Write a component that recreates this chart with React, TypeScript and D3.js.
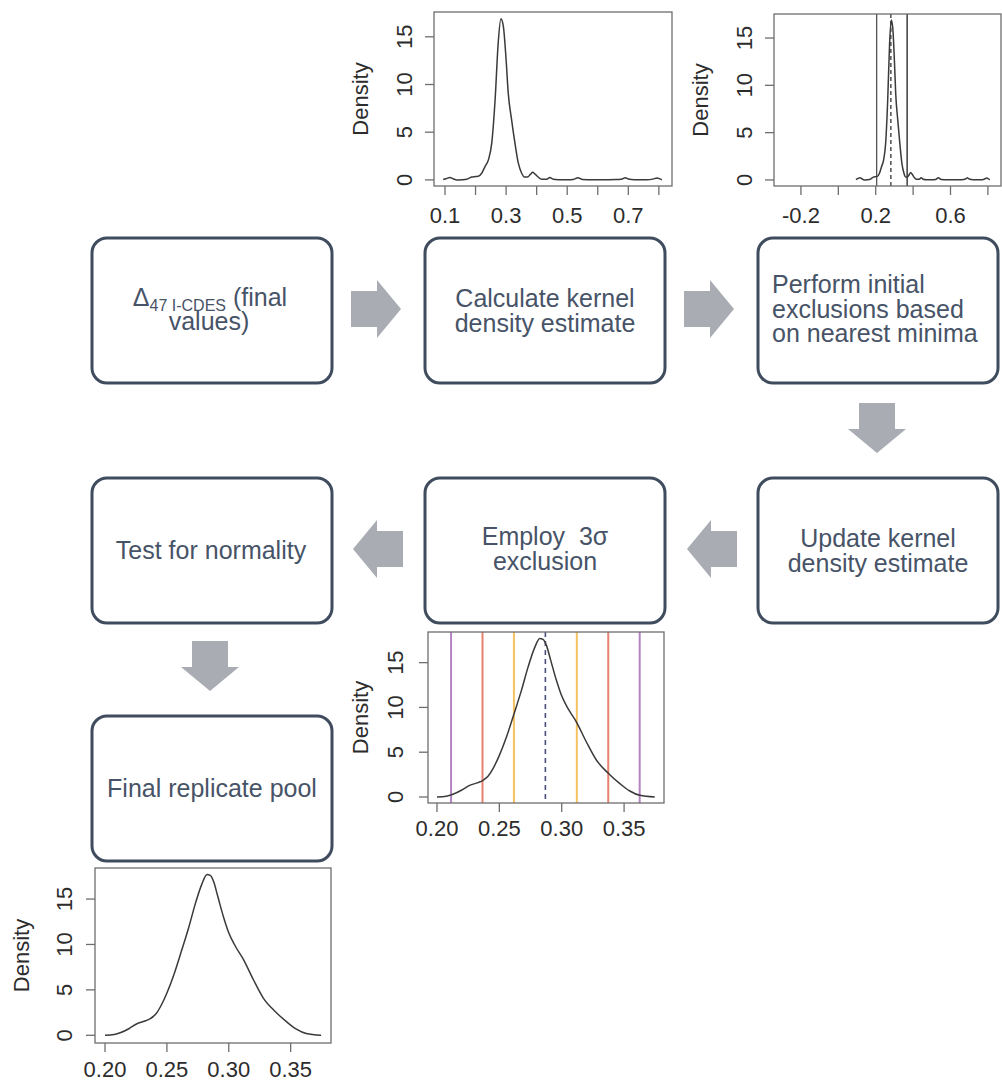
import React from 'react';
import * as d3 from 'd3';

// Kernel density of all final replicate values (Δ47 I-CDES)
const kdeAllX = [0.094, 0.105, 0.116, 0.128, 0.138, 0.155, 0.171, 0.187, 0.2, 0.209, 0.22, 0.231, 0.242, 0.253, 0.264, 0.274, 0.283, 0.291, 0.3, 0.307, 0.318, 0.329, 0.34, 0.351, 0.36, 0.37, 0.38, 0.387, 0.395, 0.405, 0.416, 0.433, 0.443, 0.454, 0.47, 0.5, 0.52, 0.535, 0.55, 0.58, 0.62, 0.66, 0.68, 0.69, 0.7, 0.72, 0.76, 0.78, 0.794, 0.805, 0.81];
const kdeAllY = [0.05, 0.15, 0.24, 0.1, 0.0, 0.02, 0.07, 0.3, 0.35, 0.38, 0.7, 1.4, 2.1, 3.85, 8.4, 14.3, 16.9, 16.1, 12.6, 9.1, 6.3, 3.85, 1.75, 0.7, 0.3, 0.3, 0.6, 0.8, 0.6, 0.3, 0.07, 0.07, 0.24, 0.07, 0.02, 0.02, 0.05, 0.22, 0.05, 0.02, 0.02, 0.03, 0.1, 0.22, 0.1, 0.02, 0.02, 0.08, 0.2, 0.08, 0.02];

// Kernel density after the nearest-minima exclusions
const kdeTrimX = [0.2, 0.2075, 0.2128, 0.2196, 0.2262, 0.2329, 0.2369, 0.2409, 0.2449, 0.25, 0.2557, 0.2618, 0.2677, 0.273, 0.2784, 0.2824, 0.285, 0.2878, 0.2912, 0.2958, 0.2998, 0.3051, 0.3118, 0.3198, 0.3279, 0.3377, 0.3466, 0.3546, 0.3626, 0.3746];
const kdeTrimY = [0.0, 0.08, 0.3, 0.75, 1.3, 1.6, 1.86, 2.31, 3.17, 4.65, 6.7, 9.3, 11.9, 14.5, 16.7, 17.7, 17.6, 16.9, 15.25, 13.0, 11.35, 9.86, 8.37, 6.14, 4.1, 2.6, 1.5, 0.67, 0.19, 0.0];

const densityTicks = [0, 5, 10, 15];
const allXTicks = [0.1, 0.2, 0.3, 0.4, 0.5, 0.6, 0.7, 0.8];
const allXLabels = [0.1, 0.3, 0.5, 0.7];
const wideXTicks = [-0.2, 0.0, 0.2, 0.4, 0.6, 0.8];
const wideXLabels = [-0.2, 0.2, 0.6];
const trimXTicks = [0.2, 0.25, 0.3, 0.35];

// Nearest minima either side of the mode
const minimaBounds = [0.205, 0.368];
const allMode = 0.281;

// 3σ exclusion statistics
const trimMean = 0.2869;
const trimSd = 0.0252;
const sigmaSteps = [1, 2, 3];
const sigmaColors = ['#F6C260', '#E8826F', '#B483C2'];

// Flow step texts
const stepCalc = ['Calculate kernel', 'density estimate'];
const stepInitial = ['Perform initial', 'exclusions based', 'on nearest minima'];
const stepUpdate = ['Update kernel', 'density estimate'];
const stepSigma = ['Employ  3σ', 'exclusion'];
const stepNormality = 'Test for normality';
const stepFinal = 'Final replicate pool';

const FONT = '"Liberation Sans", Arial, Helvetica, sans-serif';
const TEXT_COLOR = '#475367';
const BOX_STROKE = '#3E4C5E';
const ARROW_FILL = '#A9ACB3';
const AXIS_COLOR = '#6E6E6E';

type PanelProps = {
  frame: [number, number, number, number];
  xDomain: [number, number];
  yDomain: [number, number];
  xs: number[];
  ys: number[];
  xTicks: number[];
  xLabels: number[];
  digits: number;
  xLabelGap: number;
  yLabelGap: number;
  titleGap: number;
  overlay?: (x: d3.ScaleLinear<number, number>, y: d3.ScaleLinear<number, number>) => React.ReactNode;
};

function DensityPanel(p: PanelProps) {
  const [x0, y0, x1, y1] = p.frame;
  const x = d3.scaleLinear().domain(p.xDomain).range([x0, x1]);
  const y = d3.scaleLinear().domain(p.yDomain).range([y1, y0]);
  const pts: [number, number][] = p.xs.map((v, i) => [v, p.ys[i]]);
  const line = d3
    .line<[number, number]>()
    .x((d) => x(d[0]))
    .y((d) => y(d[1]))
    .curve(d3.curveMonotoneX);
  const tickLen = 9;
  return (
    <g fontFamily={FONT}>
      {p.overlay ? p.overlay(x, y) : null}
      <path d={line(pts) || ''} fill="none" stroke="#3a3a3a" strokeWidth={1.5} />
      <rect x={x0} y={y0} width={x1 - x0} height={y1 - y0} fill="none" stroke={AXIS_COLOR} strokeWidth={1.3} />
      {p.xTicks.map((t) => (
        <line key={'xt' + t} x1={x(t)} x2={x(t)} y1={y1} y2={y1 + tickLen} stroke={AXIS_COLOR} strokeWidth={1.3} />
      ))}
      {p.xLabels.map((t) => (
        <text key={'xl' + t} x={x(t)} y={y1 + p.xLabelGap} textAnchor="middle" fontSize={22} fill="#2c2c2c">
          {t.toFixed(p.digits)}
        </text>
      ))}
      {densityTicks.map((t) => (
        <line key={'yt' + t} x1={x0 - tickLen} x2={x0} y1={y(t)} y2={y(t)} stroke={AXIS_COLOR} strokeWidth={1.3} />
      ))}
      {densityTicks.map((t) => (
        <text
          key={'yl' + t}
          transform={`translate(${x0 - p.yLabelGap},${y(t)}) rotate(-90)`}
          textAnchor="middle"
          fontSize={22}
          fill="#2c2c2c"
        >
          {t}
        </text>
      ))}
      <text
        transform={`translate(${x0 - p.titleGap},${(y0 + y1) / 2}) rotate(-90)`}
        textAnchor="middle"
        fontSize={22}
        fill="#2c2c2c"
      >
        Density
      </text>
    </g>
  );
}

const BOX_W = 240;
const BOX_H = 145;

function StepBox({ x, y }: { x: number; y: number }) {
  return <rect x={x} y={y} width={BOX_W} height={BOX_H} rx={15} ry={15} fill="#fff" stroke={BOX_STROKE} strokeWidth={3} />;
}

function Arrow({ x, y, angle }: { x: number; y: number; angle: number }) {
  // block arrow pointing along +x from its tail at (0,0)
  const d = 'M0,-18 H26 V-29 L50,0 L26,29 V18 H0 Z';
  return <path d={d} fill={ARROW_FILL} transform={`translate(${x},${y}) rotate(${angle})`} />;
}

function Lines({ lines, x, y, step, anchor = 'middle' }: { lines: string[]; x: number; y: number; step: number; anchor?: string }) {
  return (
    <text fontFamily={FONT} fontSize={25} fill={TEXT_COLOR} textAnchor={anchor} style={{ whiteSpace: 'pre' }}>
      {lines.map((l, i) => (
        <tspan key={i} x={x} y={y + i * step}>
          {l}
        </tspan>
      ))}
    </text>
  );
}

export default function App() {
  const sigmaLines = (x: d3.ScaleLinear<number, number>, y: d3.ScaleLinear<number, number>) => {
    const [top, bottom] = [y.range()[1], y.range()[0]];
    return (
      <g>
        {sigmaSteps.map((k, i) =>
          [-1, 1].map((s) => (
            <line
              key={k + '_' + s}
              x1={x(trimMean + s * k * trimSd)}
              x2={x(trimMean + s * k * trimSd)}
              y1={top}
              y2={bottom}
              stroke={sigmaColors[i]}
              strokeWidth={2}
            />
          ))
        )}
        <line x1={x(trimMean)} x2={x(trimMean)} y1={top} y2={bottom} stroke="#4B4F7D" strokeWidth={1.6} strokeDasharray="5,4" />
      </g>
    );
  };

  const minimaLines = (x: d3.ScaleLinear<number, number>, y: d3.ScaleLinear<number, number>) => {
    const [top, bottom] = [y.range()[1], y.range()[0]];
    return (
      <g>
        <line x1={x(minimaBounds[0])} x2={x(minimaBounds[0])} y1={top} y2={bottom} stroke="#555" strokeWidth={1.3} />
        <line x1={x(minimaBounds[1])} x2={x(minimaBounds[1])} y1={top} y2={bottom} stroke="#1e1e1e" strokeWidth={1.3} />
        <line x1={x(allMode)} x2={x(allMode)} y1={top} y2={bottom} stroke="#333" strokeWidth={1.3} strokeDasharray="4,3" />
      </g>
    );
  };

  return (
    <svg
      width={1002}
      height={1082}
      viewBox="0 0 1002 1082"
      style={{ position: 'absolute', left: 0, top: 0, display: 'block', background: '#fff' }}
    >
      <rect x={0} y={0} width={1002} height={1082} fill="#fff" />

      {/* density panels */}
      <DensityPanel
        frame={[434, 12, 672, 186]}
        xDomain={[0.064, 0.843]}
        yDomain={[-0.64, 17.6]}
        xs={kdeAllX}
        ys={kdeAllY}
        xTicks={allXTicks}
        xLabels={allXLabels}
        digits={1}
        xLabelGap={37}
        yLabelGap={22}
        titleGap={66}
      />
      <DensityPanel
        frame={[774, 14, 1001, 186]}
        xDomain={[-0.344, 0.87]}
        yDomain={[-0.64, 17.54]}
        xs={kdeAllX}
        ys={kdeAllY}
        xTicks={wideXTicks}
        xLabels={wideXLabels}
        digits={1}
        xLabelGap={37}
        yLabelGap={22}
        titleGap={66}
        overlay={minimaLines}
      />
      <DensityPanel
        frame={[428, 632, 664, 803]}
        xDomain={[0.1928, 0.382]}
        yDomain={[-0.67, 18.42]}
        xs={kdeTrimX}
        ys={kdeTrimY}
        xTicks={trimXTicks}
        xLabels={trimXTicks}
        digits={2}
        xLabelGap={33}
        yLabelGap={25}
        titleGap={60}
        overlay={sigmaLines}
      />
      <DensityPanel
        frame={[95, 868, 331, 1043]}
        xDomain={[0.1919, 0.3826]}
        yDomain={[-0.85, 18.42]}
        xs={kdeTrimX}
        ys={kdeTrimY}
        xTicks={trimXTicks}
        xLabels={trimXTicks}
        digits={2}
        xLabelGap={34}
        yLabelGap={23}
        titleGap={66}
      />

      {/* flow boxes */}
      <StepBox x={92} y={238} />
      <StepBox x={425} y={238} />
      <StepBox x={758} y={238} />
      <StepBox x={92} y={478} />
      <StepBox x={425} y={478} />
      <StepBox x={758} y={478} />
      <StepBox x={92} y={716} />

      {/* flow arrows */}
      <Arrow x={351} y={309} angle={0} />
      <Arrow x={684} y={309} angle={0} />
      <Arrow x={877} y={403} angle={90} />
      <Arrow x={737} y={549} angle={180} />
      <Arrow x={403} y={549} angle={180} />
      <Arrow x={210} y={641} angle={90} />

      {/* step labels */}
      <text fontFamily={FONT} fontSize={25} fill={TEXT_COLOR} textAnchor="middle">
        <tspan x={210} y={306}>
          Δ
          <tspan fontSize={16} dy={5}>
            47 I-CDES
          </tspan>
          <tspan dy={-5}> (final</tspan>
        </tspan>
        <tspan x={209} y={330}>
          values)
        </tspan>
      </text>
      <Lines lines={stepCalc} x={545} y={307} step={24.5} />
      <Lines lines={stepInitial} x={772} y={293} step={24.5} anchor="start" />
      <Lines lines={stepSigma} x={545} y={545} step={24.5} />
      <Lines lines={stepUpdate} x={878} y={547} step={24.5} />
      <Lines lines={[stepNormality]} x={211} y={559} step={24} />
      <Lines lines={[stepFinal]} x={212} y={797} step={24} />
    </svg>
  );
}
